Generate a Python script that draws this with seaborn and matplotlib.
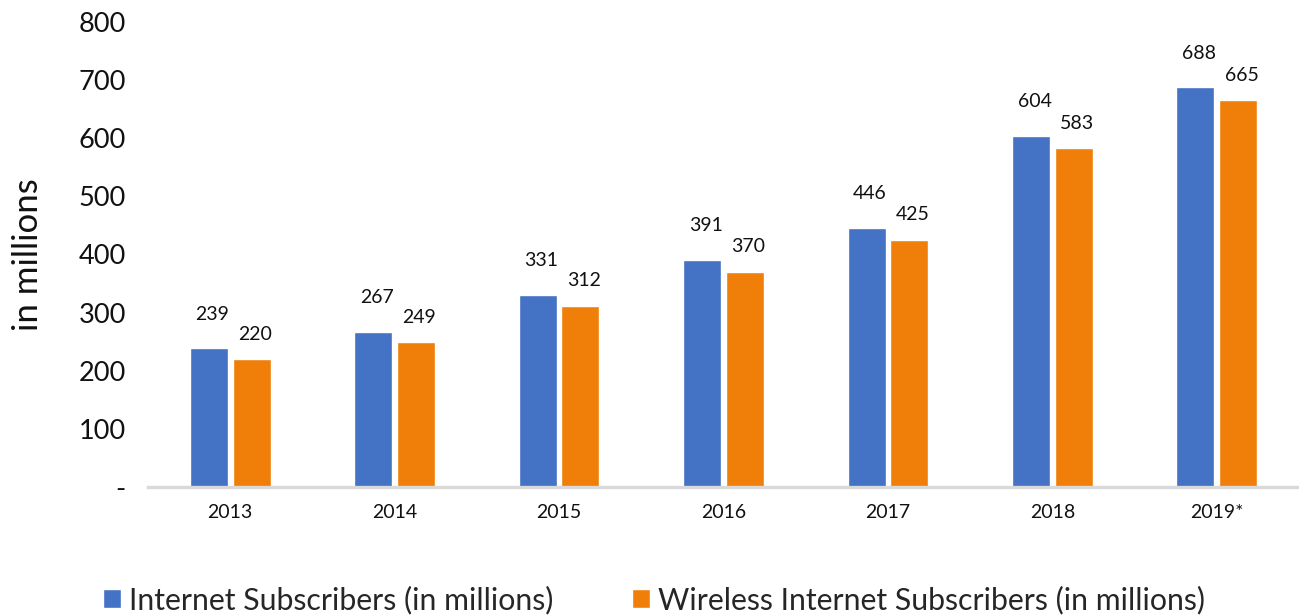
import matplotlib
matplotlib.use("Agg")
import matplotlib.pyplot as plt
from matplotlib.patches import Patch
import matplotlib.colors as mcolors
import seaborn as sns
import pandas as pd

years = ["2013", "2014", "2015", "2016", "2017", "2018", "2019*"]
internet = [239, 267, 331, 391, 446, 604, 688]
wireless = [220, 249, 312, 370, 425, 583, 665]
series_names = ["Internet Subscribers (in millions)",
                "Wireless Internet Subscribers (in millions)"]
y_ticks = [0, 100, 200, 300, 400, 500, 600, 700, 800]
y_tick_labels = ["-", "100", "200", "300", "400", "500", "600", "700", "800"]

BLUE = "#4472C4"
ORANGE = "#F07F09"

df = pd.DataFrame({
    "year": years * 2,
    "value": internet + wireless,
    "series": [series_names[0]] * len(years) + [series_names[1]] * len(years),
})

sns.set_theme(style="white")
plt.rcParams["font.family"] = ["Lato", "DejaVu Sans"]

fig = plt.figure(figsize=(12.99, 6.16), dpi=100)
ax = fig.add_axes([148 / 1299, 129 / 616, 1 - 148 / 1299, 465 / 616])

sns.barplot(data=df, x="year", y="value", hue="series",
            palette=[BLUE, ORANGE], width=0.52, gap=0.11,
            legend=False, ax=ax, saturation=1)

# value labels above each bar; the wireless labels sit a little lower
for bar in ax.patches:
    h = bar.get_height()
    if h <= 0:
        continue
    is_blue = mcolors.to_hex(bar.get_facecolor()).lower() == BLUE.lower()
    off = 24.5 if is_blue else 18
    ax.annotate(f"{h:.0f}", (bar.get_x() + bar.get_width() / 2, h),
                xytext=(2.5, off), textcoords="offset points",
                ha="center", va="center", fontsize=14, color="#111111")

ax.set_ylim(0, 800)
ax.set_xlim(-0.5, len(years) - 0.5)
ax.set_yticks(y_ticks)
ax.set_yticklabels(y_tick_labels, fontsize=19.5, color="#111111")
ax.tick_params(axis="x", labelsize=14, colors="#111111", pad=12, length=0)
ax.tick_params(axis="y", pad=16, length=0)
ax.set_xlabel("")
ax.set_ylabel("in millions", fontsize=25, color="#111111", labelpad=25)

for side in ["top", "right", "left"]:
    ax.spines[side].set_visible(False)
ax.spines["bottom"].set_color("#D9D9D9")
ax.spines["bottom"].set_linewidth(2.4)

handles = [Patch(facecolor=BLUE), Patch(facecolor=ORANGE)]
fig.legend(handles, series_names, loc="center", bbox_to_anchor=(654 / 1299, 16 / 616),
           ncol=2, frameon=False, fontsize=21.8, handlelength=0.6,
           handleheight=0.6, handletextpad=0.25, columnspacing=2.6)

fig.savefig("out.png", dpi=100)
